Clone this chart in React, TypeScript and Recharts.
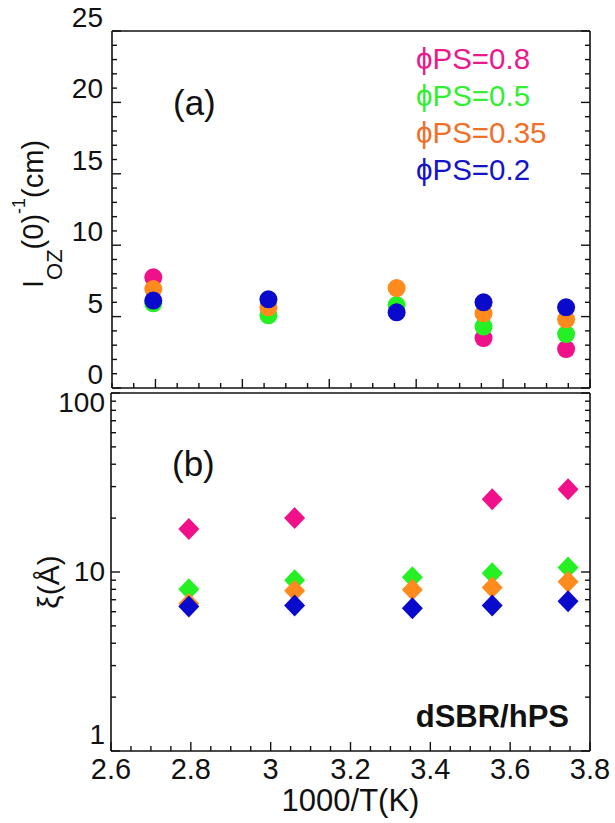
import { Scatter, ScatterChart, XAxis, YAxis } from 'recharts';

// 1000/T(K) positions of the five temperatures
const invTemp = [2.795, 3.06, 3.355, 3.555, 3.745];

const seriesNames = ['ϕPS=0.8', 'ϕPS=0.5', 'ϕPS=0.35', 'ϕPS=0.2'];
const markerColors = ['#f0108a', '#24f024', '#ff8a1e', '#0a0acc'];
const legendColors = ['#ea1a8c', '#33ee33', '#f07028', '#1414c8'];

// panel (a): I_OZ(0)^-1 (cm)
const iozPS08 = [7.75, null, null, 3.5, 2.73];
const iozPS05 = [5.93, 5.09, 5.81, 4.3, 3.78];
const iozPS035 = [6.93, 5.65, 7.0, 5.23, 4.81];
const iozPS02 = [6.12, 6.21, 5.3, 6.0, 5.65];

// panel (b): xi (Å)
const xiPS08 = [17.4, 20.0, null, 25.5, 29.0];
const xiPS05 = [8.02, 9.0, 9.36, 9.85, 10.6];
const xiPS035 = [6.64, 7.85, 7.95, 8.19, 8.81];
const xiPS02 = [6.41, 6.5, 6.28, 6.5, 6.87];

const topXTicks = [
  2.7, 2.75, 2.8, 2.85, 2.9, 2.95, 3.0, 3.05, 3.1, 3.15, 3.2, 3.25, 3.3, 3.35, 3.4, 3.45, 3.5, 3.55,
  3.6, 3.65, 3.7, 3.75, 3.8,
];
const bottomXTicks = [
  2.6, 2.65, 2.7, 2.75, 2.8, 2.85, 2.9, 2.95, 3.0, 3.05, 3.1, 3.15, 3.2, 3.25, 3.3, 3.35, 3.4, 3.45,
  3.5, 3.55, 3.6, 3.65, 3.7, 3.75, 3.8,
];
const topYTicks = [
  0, 1, 2, 3, 4, 5, 6, 7, 8, 9, 10, 11, 12, 13, 14, 15, 16, 17, 18, 19, 20, 21, 22, 23, 24, 25,
];
const bottomYTicks = [1, 2, 3, 4, 5, 6, 7, 8, 9, 10, 20, 30, 40, 50, 60, 70, 80, 90, 100];

const toPoints = (ys: (number | null)[]) =>
  invTemp.map((x, i) => ({ x, y: ys[i] })).filter((p) => p.y !== null);

const topSeries = [iozPS08, iozPS05, iozPS035, iozPS02].map(toPoints);
const bottomSeries = [xiPS08, xiPS05, xiPS035, xiPS02].map(toPoints);

const FONT = '"Liberation Sans", Arial, sans-serif';
const AXIS = { stroke: '#111', strokeWidth: 1.6 };

const majorX = (v: number) => Math.abs(v / 0.2 - Math.round(v / 0.2)) < 1e-6;
const majorTopY = (v: number) => v % 5 === 0;
const majorLogY = (v: number) => v === 1 || v === 10 || v === 100;

type Side = 'bottom' | 'top' | 'left' | 'right';

function makeTick(side: Side, isMajor: (v: number) => boolean, label?: (v: number, x: number, y: number) => any) {
  return (props: any) => {
    const { x, y, payload } = props;
    const v = payload.value;
    const major = isMajor(v);
    const len = major ? 9 : 5;
    let x2 = x;
    let y2 = y;
    if (side === 'bottom') y2 = y - len;
    if (side === 'top') y2 = y + len;
    if (side === 'left') x2 = x + len;
    if (side === 'right') x2 = x - len;
    return (
      <g>
        <line x1={x} y1={y} x2={x2} y2={y2} stroke="#111" strokeWidth={1.4} />
        {label && major ? label(v, x, y) : null}
      </g>
    );
  };
}

const xLabel = (v: number, x: number, y: number) => (
  <text x={x} y={y + 28} textAnchor="middle" fontSize={29} fontFamily={FONT} fill="#111">
    {String(Number(v.toFixed(1)))}
  </text>
);
const topYLabel = (v: number, x: number, y: number) => (
  <text x={x - 9} y={y - 4} textAnchor="end" fontSize={28} fontFamily={FONT} fill="#111">
    {v}
  </text>
);
const logYShift: Record<number, number> = { 100: 9, 10: -1, 1: -17 };
const logYLabel = (v: number, x: number, y: number) => (
  <text x={x - 6} y={y + logYShift[v] + 10} textAnchor="end" fontSize={28} fontFamily={FONT} fill="#111">
    {v}
  </text>
);

const circle = (color: string) => (p: any) => <circle cx={p.cx} cy={p.cy} r={9} fill={color} />;
const diamond = (color: string) => (p: any) => (
  <polygon
    points={`${p.cx},${p.cy - 11} ${p.cx + 10.5},${p.cy} ${p.cx},${p.cy + 11} ${p.cx - 10.5},${p.cy}`}
    fill={color}
  />
);

const topYLabelContent = () => (
  <text transform="rotate(-90, 43, 288)" x={43} y={288} fontFamily={FONT} fill="#111" fontSize={29}>
    <tspan>I</tspan>
    <tspan fontSize={22} dy={19}>OZ</tspan>
    <tspan dy={-19}>(0)</tspan>
    <tspan fontSize={18} dy={-18}>-1</tspan>
    <tspan dy={18}>(cm)</tspan>
  </text>
);

// coordinates relative to the lower chart (which starts 380px down the page)
const bottomYLabelContent = () => (
  <text
    transform="rotate(-90, 59, 202)"
    x={59}
    y={202}
    textAnchor="middle"
    fontFamily={FONT}
    fill="#111"
    fontSize={30}
  >
    ξ(Å)
  </text>
);

const xTitleContent = (props: any) => {
  const vb = props.viewBox;
  return (
    <text x={vb.x + vb.width / 2} y={vb.y + 60} textAnchor="middle" fontFamily={FONT} fontSize={31} fill="#111">
      1000/T(K)
    </text>
  );
};

export default function App() {
  return (
    <div style={{ position: 'absolute', left: 0, top: 0, width: 615, height: 823, background: '#fff' }}>
      <div style={{ position: 'absolute', left: 0, top: 0 }}>
        <ScatterChart width={615} height={395} margin={{ top: 30, right: 24, left: 0, bottom: 0 }}>
          <XAxis
            xAxisId="b"
            type="number"
            dataKey="x"
            domain={[2.7, 3.8]}
            ticks={topXTicks}
            interval={0}
            height={7}
            tickSize={0}
            tickMargin={0}
            tickLine={false}
            axisLine={AXIS}
            tick={makeTick('bottom', majorX)}
            allowDataOverflow
          />
          <XAxis
            xAxisId="t"
            orientation="top"
            type="number"
            domain={[2.7, 3.8]}
            ticks={topXTicks}
            interval={0}
            height={1}
            tickSize={0}
            tickMargin={0}
            tickLine={false}
            axisLine={AXIS}
            tick={makeTick('top', majorX)}
            allowDataOverflow
          />
          <YAxis
            yAxisId="l"
            type="number"
            dataKey="y"
            domain={[0, 25]}
            ticks={topYTicks}
            interval={0}
            width={112}
            tickSize={0}
            tickMargin={0}
            tickLine={false}
            axisLine={AXIS}
            tick={makeTick('left', majorTopY, topYLabel)}
            label={{ content: topYLabelContent }}
            allowDataOverflow
          />
          <YAxis
            yAxisId="r"
            orientation="right"
            type="number"
            domain={[0, 25]}
            ticks={topYTicks}
            interval={0}
            width={1}
            tickSize={0}
            tickMargin={0}
            tickLine={false}
            axisLine={AXIS}
            tick={makeTick('right', majorTopY)}
            allowDataOverflow
          />
          {topSeries.map((pts, i) => (
            <Scatter
              key={seriesNames[i]}
              name={seriesNames[i]}
              data={pts}
              xAxisId="b"
              yAxisId="l"
              shape={circle(markerColors[i])}
              isAnimationActive={false}
            />
          ))}
        </ScatterChart>
      </div>
      <div style={{ position: 'absolute', left: 0, top: 380 }}>
        <ScatterChart width={615} height={443} margin={{ top: 12, right: 24, left: 0, bottom: 0 }}>
          <XAxis
            xAxisId="b"
            type="number"
            dataKey="x"
            domain={[2.6, 3.8]}
            ticks={bottomXTicks}
            interval={0}
            height={72}
            tickSize={0}
            tickMargin={0}
            tickLine={false}
            axisLine={AXIS}
            tick={makeTick('bottom', majorX, xLabel)}
            label={{ content: xTitleContent }}
            allowDataOverflow
          />
          <XAxis
            xAxisId="t"
            orientation="top"
            type="number"
            domain={[2.6, 3.8]}
            ticks={bottomXTicks}
            interval={0}
            height={1}
            tickSize={0}
            tickMargin={0}
            tickLine={false}
            axisLine={AXIS}
            tick={makeTick('top', majorX)}
            allowDataOverflow
          />
          <YAxis
            yAxisId="l"
            type="number"
            scale="log"
            dataKey="y"
            domain={[1, 100]}
            ticks={bottomYTicks}
            interval={0}
            width={111}
            tickSize={0}
            tickMargin={0}
            tickLine={false}
            axisLine={AXIS}
            tick={makeTick('left', majorLogY, logYLabel)}
            label={{ content: bottomYLabelContent }}
            allowDataOverflow
          />
          <YAxis
            yAxisId="r"
            orientation="right"
            type="number"
            scale="log"
            domain={[1, 100]}
            ticks={bottomYTicks}
            interval={0}
            width={1}
            tickSize={0}
            tickMargin={0}
            tickLine={false}
            axisLine={AXIS}
            tick={makeTick('right', majorLogY)}
            allowDataOverflow
          />
          {bottomSeries.map((pts, i) => (
            <Scatter
              key={seriesNames[i]}
              name={seriesNames[i]}
              data={pts}
              xAxisId="b"
              yAxisId="l"
              shape={diamond(markerColors[i])}
              isAnimationActive={false}
            />
          ))}
        </ScatterChart>
      </div>
      <svg
        width={615}
        height={823}
        style={{ position: 'absolute', left: 0, top: 0, pointerEvents: 'none' }}
        fontFamily={FONT}
      >
        {seriesNames.map((name, i) => (
          <text key={name} x={416} y={68.5 + i * 37.3} fontSize={29.5} fill={legendColors[i]}>
            {name}
          </text>
        ))}
        <text x={173} y={115} fontSize={35} fill="#111">
          (a)
        </text>
        <text x={172} y={476} fontSize={35} fill="#111">
          (b)
        </text>
        <text x={569} y={727} fontSize={31} fontWeight="bold" textAnchor="end" fill="#111">
          dSBR/hPS
        </text>
      </svg>
    </div>
  );
}
